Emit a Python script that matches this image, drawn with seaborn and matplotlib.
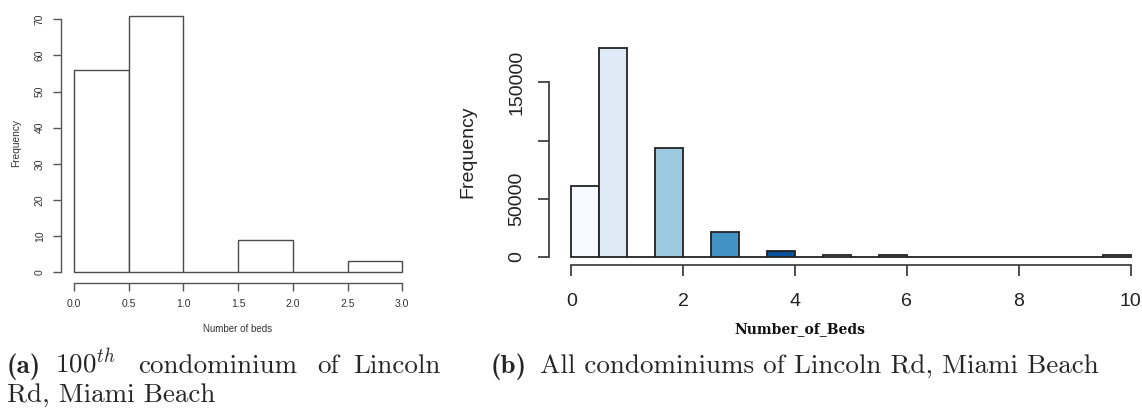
import matplotlib
matplotlib.use("Agg")
import matplotlib.pyplot as plt
import seaborn as sns
import numpy as np

# ---- data ----
left_edges = [0.0, 0.5, 1.0, 1.5, 2.0, 2.5, 3.0]
left_counts = [56, 71, 0, 9, 0, 3]
left_xticks = [0.0, 0.5, 1.0, 1.5, 2.0, 2.5, 3.0]
left_yticks = [0, 10, 20, 30, 40, 50, 60, 70]

right_edges = [i * 0.5 for i in range(21)]
right_counts = [60600, 179900, 0, 93500, 0, 21500, 0, 4600, 0, 1500,
                0, 1200, 0, 0, 0, 0, 0, 0, 0, 1200]
right_xticks = [0, 2, 4, 6, 8, 10]
right_yticks = [0, 50000, 100000, 150000]
right_yticklabels = ["0", "50000", "", "150000"]
blues9 = ["#f7fbff", "#deebf7", "#c6dbef", "#9ecae1", "#6baed6",
          "#4292c6", "#2171b5", "#08519c", "#08306b"]

sns.set_theme(style="ticks")
plt.rcParams["font.family"] = ["Liberation Sans", "DejaVu Sans"]
plt.rcParams["mathtext.fontset"] = "cm"

W, H = 1142, 408
fig = plt.figure(figsize=(W / 100, H / 100), dpi=100)
fig.patch.set_facecolor("white")


def px_axes(l, t, r, b):
    return fig.add_axes([l / W, (H - b) / H, (r - l) / W, (b - t) / H])


# ---------------- left panel ----------------
axL = px_axes(60.9, 5.4, 415.4, 282.6)
lmids = [(left_edges[i] + left_edges[i + 1]) / 2 for i in range(len(left_counts))]
sns.histplot(x=lmids, weights=left_counts, bins=left_edges, ax=axL,
             color="white", edgecolor="#4a4a4a", linewidth=1.0, alpha=1)
for p in axL.patches:
    p.set_facecolor("white")
axL.set_xlim(-0.12, 3.12)
axL.set_ylim(-2.84, 73.84)
axL.set_xticks(left_xticks)
axL.set_xticklabels([f"{v:.1f}" for v in left_xticks])
axL.set_yticks(left_yticks)
axL.set_yticklabels([str(v) for v in left_yticks], rotation=90, va="center")
for s in ["top", "right"]:
    axL.spines[s].set_visible(False)
axL.spines["left"].set_bounds(0, 70)
axL.spines["bottom"].set_bounds(0, 3)
for s in ["left", "bottom"]:
    axL.spines[s].set_color("#555555")
    axL.spines[s].set_linewidth(1.0)
axL.tick_params(axis="both", length=5.5, width=1.0, color="#555555",
                labelsize=7.5, labelcolor="#333333", pad=6)
axL.set_xlabel("")
axL.set_ylabel("")
fig.text(15.7 / W, (H - 143) / H, "Frequency", rotation=90, fontsize=7.3,
         color="#333333", ha="center", va="center")
fig.text(238 / W, (H - 329) / H, "Number of beds", fontsize=7.0,
         color="#333333", ha="center", va="center")

# ---------------- right panel ----------------
axR = px_axes(549.1, 39.2, 1152.9, 265.1)
rmids = [(right_edges[i] + right_edges[i + 1]) / 2 for i in range(len(right_counts))]
sns.histplot(x=rmids, weights=right_counts, bins=right_edges, ax=axR,
             color="white", edgecolor="#222222", linewidth=1.3, alpha=1)
for i, p in enumerate(axR.patches):
    p.set_facecolor(blues9[i % 9])
axR.set_xlim(-0.4, 10.4)
axR.set_ylim(-7200, 187200)
axR.set_xticks(right_xticks)
axR.set_xticklabels([str(v) for v in right_xticks])
axR.set_yticks(right_yticks)
axR.set_yticklabels(right_yticklabels, rotation=90, va="center")
for s in ["top", "right"]:
    axR.spines[s].set_visible(False)
axR.spines["left"].set_bounds(0, 150000)
axR.spines["bottom"].set_bounds(0, 10)
for s in ["left", "bottom"]:
    axR.spines[s].set_color("#333333")
    axR.spines[s].set_linewidth(1.2)
axR.tick_params(axis="y", length=8, width=1.2, color="#333333",
                labelsize=14, labelcolor="#222222", pad=9)
axR.tick_params(axis="x", length=8, width=1.2, color="#333333",
                labelsize=14, labelcolor="#222222", pad=12)
axR.set_xlabel("")
axR.set_ylabel("")
fig.text(468 / W, (H - 152) / H, "Frequency", rotation=90, fontsize=14,
         color="#222222", ha="center", va="center")
fig.text(800 / W, (H - 329) / H, "Number_of_Beds", fontsize=10,
         fontweight="bold", family=["DejaVu Serif"], color="#111111",
         ha="center", va="center")

# ---------------- captions ----------------
cap_size = 19.5
base1 = (H - 373) / H
base2 = (H - 401.5) / H
rm = ["cmr10"]
bf = ["cmb10"]
fig.text(7 / W, base1, "(a)", fontsize=cap_size, family=bf, va="baseline")
fig.text(55 / W, base1, r"100$^{th}$", fontsize=cap_size, family=rm, va="baseline")
fig.text(138 / W, base1, "condominium", fontsize=cap_size, family=rm, va="baseline")
fig.text(317 / W, base1, "of", fontsize=cap_size, family=rm, va="baseline")
fig.text(353 / W, base1, "Lincoln", fontsize=cap_size, family=rm, va="baseline")
fig.text(7 / W, base2, "Rd, Miami Beach", fontsize=cap_size, family=rm, va="baseline")
fig.text(491 / W, base1, "(b)", fontsize=cap_size, family=bf, va="baseline")
fig.text(540 / W, base1, "All condominiums of Lincoln Rd, Miami Beach",
         fontsize=cap_size, family=rm, va="baseline")

fig.savefig("out.png", dpi=100, facecolor="white")
